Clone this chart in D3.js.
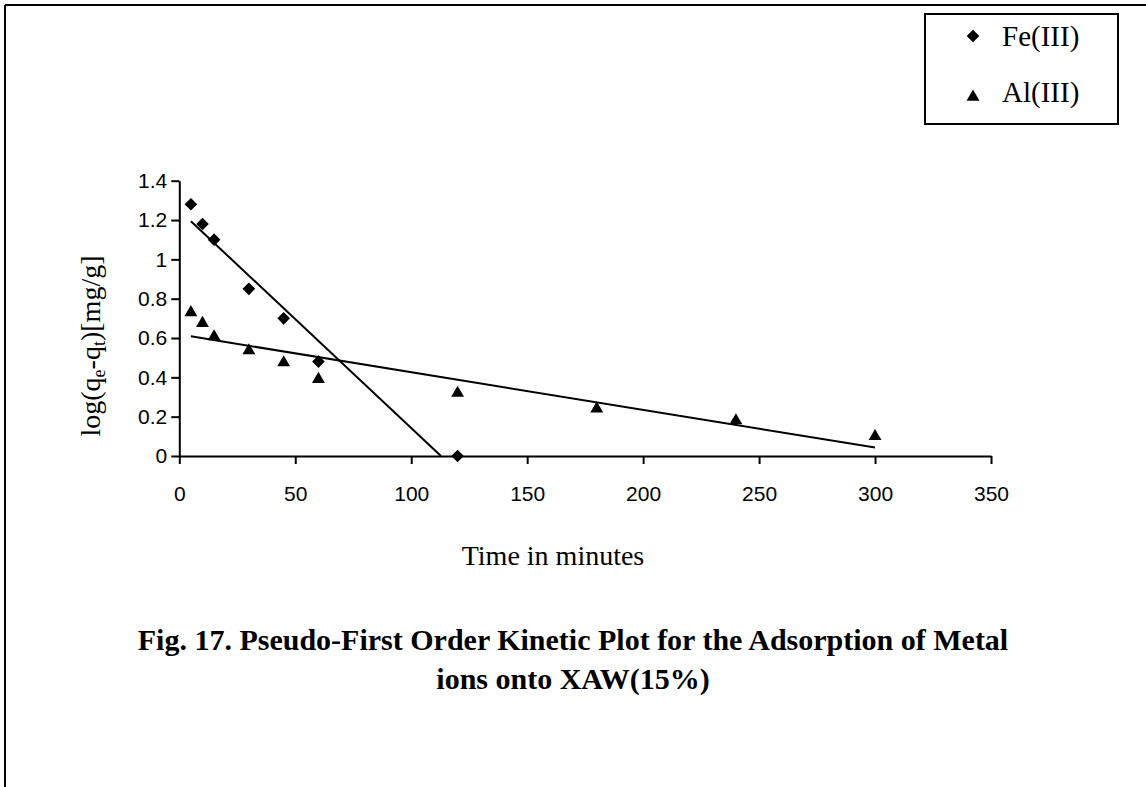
<!DOCTYPE html>
<html>
<head>
<meta charset="utf-8">
<style>
body{margin:0;background:#fff;}
svg{display:block;}
.tick text{font-family:"Liberation Sans",Arial,sans-serif;font-size:21px;fill:#000;}
.serif{font-family:"Liberation Serif","Times New Roman",serif;fill:#000;}
</style>
<script src="https://cdnjs.cloudflare.com/ajax/libs/d3/7.8.5/d3.min.js"></script>
</head>
<body>
<svg id="chart" width="1146" height="787"></svg>
<script>
// time (minutes) and log(qe-qt)
var timeFe = [5, 10, 15, 30, 45, 60, 120];
var logFe  = [1.28, 1.18, 1.10, 0.85, 0.70, 0.48, 0];
var timeAl = [5, 10, 15, 30, 45, 60, 120, 180, 240, 300];
var logAl  = [0.73, 0.675, 0.607, 0.536, 0.475, 0.39, 0.32, 0.24, 0.18, 0.10];
var seriesNames = ["Fe(III)", "Al(III)"];
var xTicks = [0, 50, 100, 150, 200, 250, 300, 350];
var yTicks = [0, 0.2, 0.4, 0.6, 0.8, 1, 1.2, 1.4];
var yTickLabels = ["0", "0.2", "0.4", "0.6", "0.8", "1", "1.2", "1.4"];

var svg = d3.select("#chart");

// page frame (only top and left edges show)
svg.append("line").attr("x1", 5).attr("y1", 5).attr("x2", 1146).attr("y2", 5)
    .attr("stroke", "#000").attr("stroke-width", 2);
svg.append("line").attr("x1", 5).attr("y1", 5).attr("x2", 5).attr("y2", 787)
    .attr("stroke", "#000").attr("stroke-width", 2);

var x = d3.scaleLinear().domain([0, 350]).range([179.3, 991]);
var y = d3.scaleLinear().domain([0, 1.4]).range([456, 180.7]);

// axes
var xAxis = d3.axisBottom(x).tickValues(xTicks).tickSize(8).tickSizeOuter(0).tickPadding(22)
    .tickFormat(function(d){ return String(d); });
var yAxis = d3.axisLeft(y).tickValues(yTicks).tickSize(8).tickSizeOuter(0).tickPadding(4)
    .tickFormat(function(d, i){ return yTickLabels[i]; });

svg.append("g").attr("transform", "translate(0," + y(0) + ")").call(xAxis);
svg.append("g").attr("transform", "translate(" + x(0) + ",0)").call(yAxis);
svg.selectAll(".domain, .tick line").attr("stroke", "#000").attr("stroke-width", 2);

// least squares trend line, cut off at y = 0
function trend(xs, ys){
    var mx = d3.mean(xs), my = d3.mean(ys), sxy = 0, sxx = 0;
    xs.forEach(function(v, i){ sxy += (v - mx) * (ys[i] - my); sxx += (v - mx) * (v - mx); });
    var m = sxy / sxx, b = my - m * mx;
    var x0 = d3.min(xs), x1 = d3.max(xs);
    if (m < 0 && -b / m < x1) x1 = -b / m;
    return [[x0, m * x0 + b], [x1, m * x1 + b]];
}

var line = d3.line().x(function(d){ return x(d[0]); }).y(function(d){ return y(d[1]); });
[[timeFe, logFe], [timeAl, logAl]].forEach(function(s){
    svg.append("path").attr("d", line(trend(s[0], s[1])))
        .attr("fill", "none").attr("stroke", "#000").attr("stroke-width", 2);
});

var diamond = d3.symbol().type(d3.symbolSquare).size(80);
var triangle = d3.symbol().type(d3.symbolTriangle).size(72);

svg.append("g").selectAll("path").data(timeFe).enter().append("path")
    .attr("d", diamond)
    .attr("transform", function(d, i){ return "translate(" + x(d) + "," + y(logFe[i]) + ") rotate(45)"; })
    .attr("fill", "#000");

svg.append("g").selectAll("path").data(timeAl).enter().append("path")
    .attr("d", triangle)
    .attr("transform", function(d, i){ return "translate(" + x(d) + "," + y(logAl[i]) + ")"; })
    .attr("fill", "#000");

// axis titles
svg.append("text").attr("class", "serif").attr("x", 553).attr("y", 565)
    .attr("text-anchor", "middle").style("font-size", "28px").text("Time in minutes");

var yl = svg.append("text").attr("class", "serif")
    .attr("transform", "translate(100,346) rotate(-90)")
    .attr("text-anchor", "middle").style("font-size", "28px");
yl.append("tspan").text("log(q");
yl.append("tspan").attr("dy", 5).style("font-size", "18px").text("e");
yl.append("tspan").attr("dy", -5).text("-q");
yl.append("tspan").attr("dy", 5).style("font-size", "18px").text("t");
yl.append("tspan").attr("dy", -5).text(")[mg/g]");

// legend
var leg = svg.append("g");
leg.append("rect").attr("x", 925).attr("y", 14).attr("width", 193).attr("height", 110)
    .attr("fill", "#fff").attr("stroke", "#000").attr("stroke-width", 2);
leg.append("path").attr("d", diamond).attr("transform", "translate(973,36) rotate(45)").attr("fill", "#000");
leg.append("path").attr("d", triangle).attr("transform", "translate(973,97)").attr("fill", "#000");
leg.selectAll("text").data(seriesNames).enter().append("text").attr("class", "serif")
    .attr("x", 1002).attr("y", function(d, i){ return i ? 102 : 46; })
    .style("font-size", "29px").text(function(d){ return d; });

// caption
var cap = svg.append("text").attr("class", "serif").attr("text-anchor", "middle")
    .style("font-size", "30px").style("font-weight", "bold");
cap.append("tspan").attr("x", 573).attr("y", 650)
    .text("Fig. 17. Pseudo-First Order Kinetic Plot for the Adsorption of Metal");
cap.append("tspan").attr("x", 573).attr("y", 689).text("ions onto XAW(15%)");
</script>
</body>
</html>
